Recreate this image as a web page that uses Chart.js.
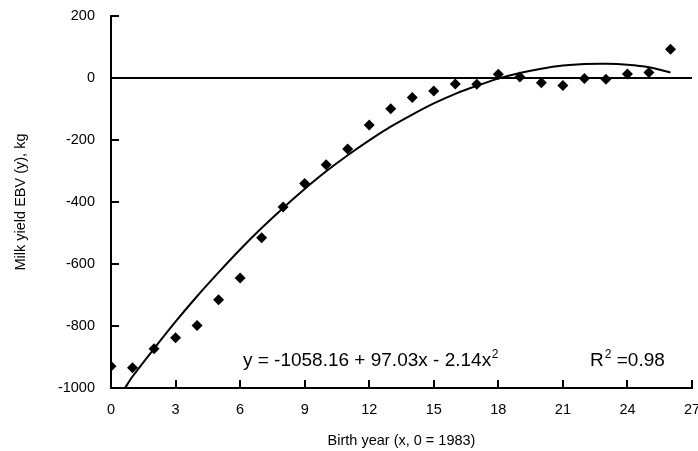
<!DOCTYPE html>
<html>
<head>
<meta charset="utf-8">
<script src="https://cdn.jsdelivr.net/npm/chart.js@4"></script>
<style>
html,body{margin:0;padding:0;background:#fff;}
#wrap{width:698px;height:451px;position:relative;}
</style>
</head>
<body>
<div id="wrap"><canvas id="c" width="698" height="451"></canvas></div>
<script>
// Observed milk yield EBV by birth year (x, 0 = 1983)
const birthYears = [0,1,2,3,4,5,6,7,8,9,10,11,12,13,14,15,16,17,18,19,20,21,22,23,24,25,26];
const ebvValues  = [-930,-935,-873,-838,-798,-715,-645,-515,-416,-340,-280,-229,-152,-99,-63,-42,-19,-20,12,3,-15,-24,-2,-4,13,18,93];

// Fitted quadratic trend
const trendX = [0.65,1,2,3,4,5,6,7,8,9,10,11,12,13,14,15,16,17,18,19,20,21,22,23,24,25,26];
const trendY = [-1000,-963,-873,-786,-704,-627,-553,-484,-419,-358,-301,-249,-201,-157,-118,-82,-51,-25,-2,16,30,40,45,46,43,35,18];

// Horizontal zero reference line
const zeroX = [0,27];
const zeroY = [0,0];

const xTicks = [0,3,6,9,12,15,18,21,24,27];
const yTicks = [-1000,-800,-600,-400,-200,0,200];

const equationText = 'y = -1058.16 + 97.03x - 2.14x';
const r2Text = '=0.98';

const FONT = "'Liberation Sans', Arial, sans-serif";

const toPts = (xs, ys) => xs.map((x, i) => ({x: x, y: ys[i]}));

const innerTicks = {
  id: 'innerTicks',
  afterDatasetsDraw(chart) {
    const ctx = chart.ctx;
    const xs = chart.scales.x, ys = chart.scales.y;
    const area = chart.chartArea;
    ctx.save();
    ctx.strokeStyle = '#000';
    ctx.lineWidth = 2;
    ctx.beginPath();
    xTicks.forEach(v => {
      const px = Math.round(xs.getPixelForValue(v));
      ctx.moveTo(px, area.bottom);
      ctx.lineTo(px, area.bottom - 8);
    });
    yTicks.forEach(v => {
      const py = Math.round(ys.getPixelForValue(v));
      ctx.moveTo(area.left, py);
      ctx.lineTo(area.left + 8, py);
    });
    ctx.stroke();

    // equation annotation
    ctx.fillStyle = '#000';
    ctx.textBaseline = 'alphabetic';
    ctx.textAlign = 'left';
    ctx.font = '19px ' + FONT;
    const ex = xs.getPixelForValue(6.13);
    const ey = ys.getPixelForValue(-929);
    ctx.fillText(equationText, ex, ey);
    const w = ctx.measureText(equationText).width;
    ctx.font = '12px ' + FONT;
    ctx.fillText('2', ex + w + 0.5, ey - 8);

    const rx = xs.getPixelForValue(22.26);
    ctx.font = '19px ' + FONT;
    ctx.fillText('R', rx, ey);
    const rw = ctx.measureText('R').width;
    ctx.font = '12px ' + FONT;
    ctx.fillText('2', rx + rw + 1, ey - 8);
    ctx.font = '19px ' + FONT;
    ctx.fillText(r2Text, rx + rw + 13, ey);
    ctx.restore();
  }
};

new Chart(document.getElementById('c'), {
  type: 'scatter',
  data: {
    datasets: [
      {
        data: toPts(zeroX, zeroY),
        showLine: true,
        borderColor: '#000',
        borderWidth: 2,
        pointRadius: 0,
        order: 3
      },
      {
        data: toPts(trendX, trendY),
        showLine: true,
        borderColor: '#000',
        borderWidth: 2,
        pointRadius: 0,
        tension: 0.3,
        order: 2
      },
      {
        data: toPts(birthYears, ebvValues),
        pointStyle: 'rectRot',
        pointRadius: 5.5,
        backgroundColor: '#000',
        borderColor: '#000',
        borderWidth: 0,
        showLine: false,
        order: 1
      }
    ]
  },
  options: {
    responsive: false,
    animation: false,
    events: [],
    layout: {padding: {left: 0, right: 6, top: 16, bottom: 0}},
    plugins: {legend: {display: false}, tooltip: {enabled: false}},
    scales: {
      x: {
        type: 'linear',
        min: 0, max: 27,
        afterBuildTicks: s => { s.ticks = xTicks.map(v => ({value: v})); },
        afterFit: s => { s.height = 63; s.paddingLeft = 0; s.paddingRight = 0; },
        grid: {display: false, drawTicks: false, tickLength: 0},
        border: {display: true, color: '#000', width: 2},
        ticks: {color: '#000', font: {family: FONT, size: 14.5}, padding: 13, maxRotation: 0},
        title: {display: true, text: 'Birth year (x, 0 = 1983)', color: '#000', font: {family: FONT, size: 14.5}, padding: {top: 4, bottom: 1}}
      },
      y: {
        type: 'linear',
        min: -1000, max: 200,
        afterBuildTicks: s => { s.ticks = yTicks.map(v => ({value: v})); },
        afterFit: s => { s.width = 111; s.paddingTop = 0; s.paddingBottom = 0; },
        grid: {display: false, drawTicks: false, tickLength: 0},
        border: {display: true, color: '#000', width: 2},
        ticks: {color: '#000', font: {family: FONT, size: 14.5}, padding: 16, callback: v => String(v)},
        title: {display: true, text: 'Milk yield EBV (y), kg', color: '#000', font: {family: FONT, size: 14.5}, padding: {top: 12, bottom: 0}}
      }
    }
  },
  plugins: [innerTicks]
});
</script>
</body>
</html>
